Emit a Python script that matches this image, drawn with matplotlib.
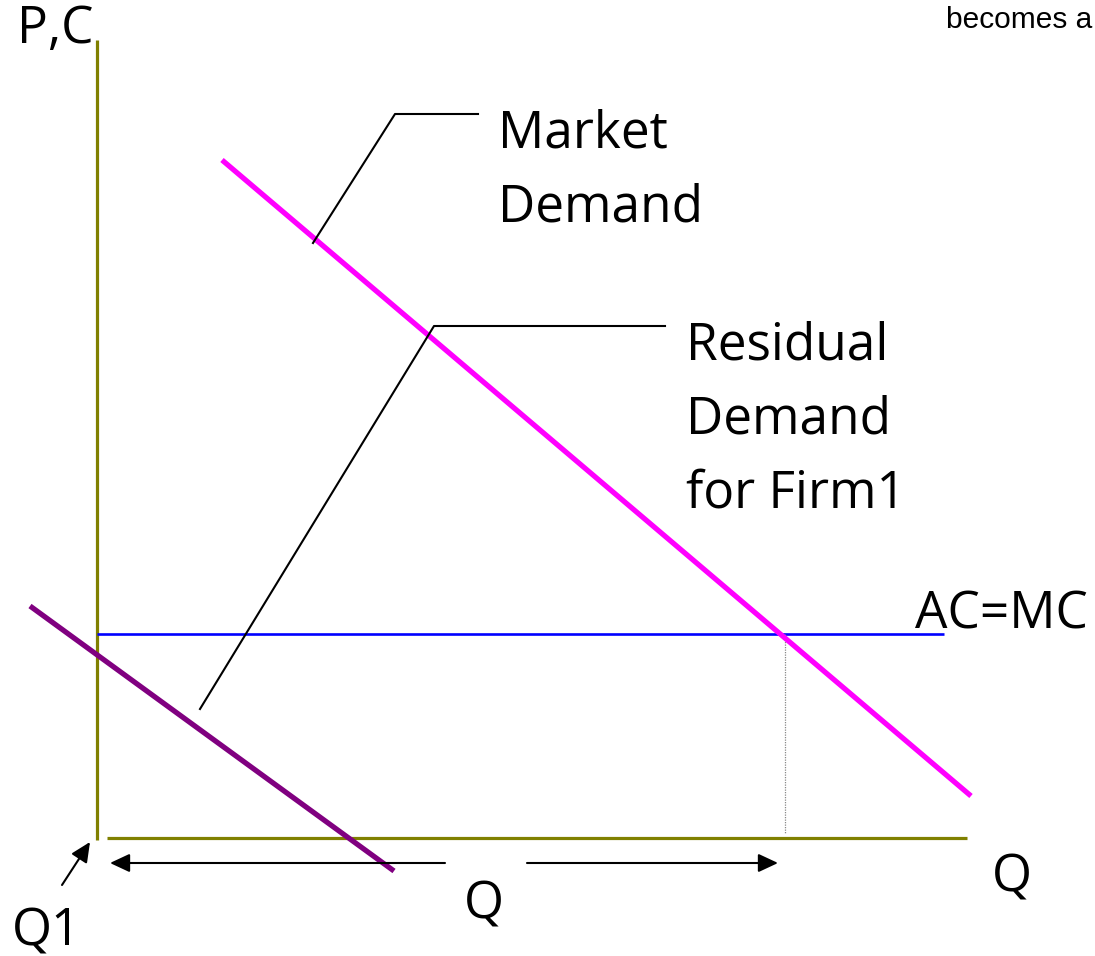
import matplotlib
matplotlib.use("Agg")
import matplotlib.pyplot as plt

# Coordinates in chart units (Q horizontal, P vertical), origin at axes corner
market_q = [1.25, 8.74]
market_p = [6.78, 0.42]
resid_q = [-0.67, 2.97]
resid_p = [2.32, -0.33]
acmc_q = [0.0, 8.47]
acmc_p = [2.04, 2.04]
drop_q = [6.88, 6.88]
drop_p = [2.04, 0.04]
yaxis_q = [0.0, 0.0]
yaxis_p = [-0.02, 7.98]
xaxis_q = [0.10, 8.70]
xaxis_p = [0.0, 0.0]
lead_md_q = [2.16, 2.98, 3.81]
lead_md_p = [5.95, 7.24, 7.24]
lead_rd_q = [1.03, 3.37, 5.68]
lead_rd_p = [1.29, 5.12, 5.12]
arrow_left = ((3.48, -0.25), (0.13, -0.25))
arrow_right = ((4.30, -0.25), (6.81, -0.25))
arrow_q1 = ((-0.35, -0.47), (-0.07, -0.04))

labels = {
    "P,C": (-0.80, 8.08),
    "Market\nDemand": (4.01, 6.67),
    "Residual\nDemand\nfor Firm1": (5.89, 4.18),
    "AC=MC": (8.18, 2.23),
    "Q_axis": (8.95, -0.40),
    "Q_mid": (3.87, -0.67),
    "Q1": (-0.85, -0.94),
}

FONT = ["Open Sans", "DejaVu Sans"]
FS = 37

fig = plt.figure(figsize=(10.95, 9.56), dpi=100)
ax = fig.add_axes([0, 0, 1, 1])
ax.set_xlim(-0.97, 9.98)
ax.set_ylim(-1.18, 8.38)
ax.axis("off")

olive = "#808000"
ax.plot(yaxis_q, yaxis_p, color=olive, lw=2.3, solid_capstyle="butt")
ax.plot(xaxis_q, xaxis_p, color=olive, lw=2.3, solid_capstyle="butt")
ax.plot(acmc_q, acmc_p, color="#0000FF", lw=1.9, solid_capstyle="butt")
ax.plot(drop_q, drop_p, color="#888888", lw=0.9, ls=(0, (1, 1)))
ax.plot(market_q, market_p, color="#FF00FF", lw=3.8, solid_capstyle="butt")
ax.plot(resid_q, resid_p, color="#800080", lw=3.8, solid_capstyle="butt")
ax.plot(lead_md_q, lead_md_p, color="black", lw=1.5)
ax.plot(lead_rd_q, lead_rd_p, color="black", lw=1.5)

for (start, end) in (arrow_left, arrow_right, arrow_q1):
    ax.annotate("", xy=end, xytext=start,
                arrowprops=dict(arrowstyle="-|>,head_length=0.6,head_width=0.28",
                                color="black", lw=1.5, shrinkA=0, shrinkB=0,
                                mutation_scale=20))

x, y = labels["P,C"]
ax.text(x, y, "P,C", family=FONT, fontsize=FS, ha="left", va="center")
x, y = labels["Market\nDemand"]
ax.text(x, y, "Market\nDemand", family=FONT, fontsize=FS, ha="left", va="center",
        linespacing=1.58)
x, y = labels["Residual\nDemand\nfor Firm1"]
ax.text(x, y, "Residual\nDemand\nfor Firm1", family=FONT, fontsize=FS, ha="left",
        va="center", linespacing=1.58)
x, y = labels["AC=MC"]
ax.text(x, y, "AC=MC", family=FONT, fontsize=FS, ha="left", va="center")
x, y = labels["Q_axis"]
ax.text(x, y, "Q", family=FONT, fontsize=FS, ha="left", va="center")
x, y = labels["Q_mid"]
ax.text(x, y, "Q", family=FONT, fontsize=FS, ha="center", va="center")
x, y = labels["Q1"]
ax.text(x, y, "Q1", family=FONT, fontsize=FS, ha="left", va="center")

fig.text(946 / 1095, 1 - 20 / 956, "becomes a", family=["Liberation Sans", "DejaVu Sans"],
         fontsize=21.5, ha="left", va="center")

fig.savefig("out.png", dpi=100)
